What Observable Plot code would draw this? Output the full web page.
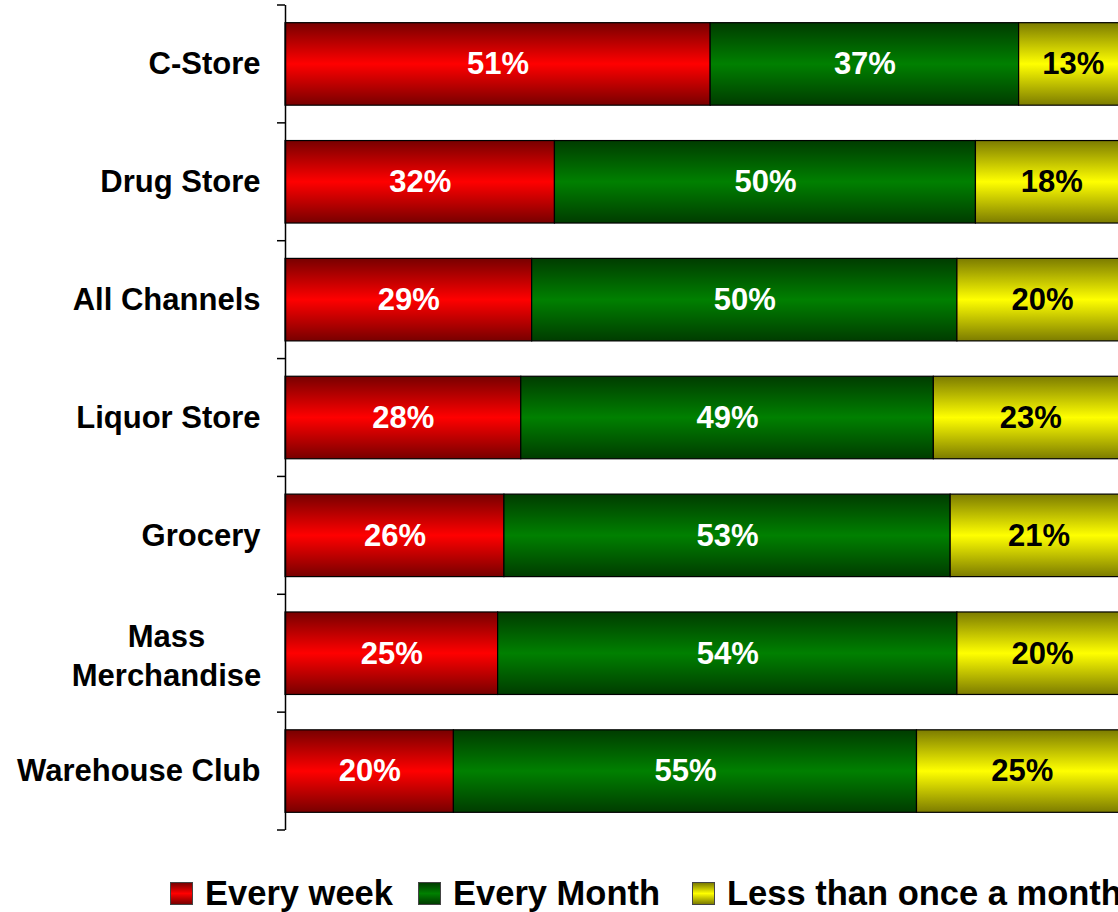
<!DOCTYPE html>
<html>
<head>
<meta charset="utf-8">
<script src="https://cdn.jsdelivr.net/npm/d3@7"></script>
<script src="https://cdn.jsdelivr.net/npm/@observablehq/plot@0.6"></script>
<style>
  html, body { margin: 0; padding: 0; background: #fff; overflow: hidden; width: 1118px; height: 912px; }
  #wrap { position: relative; width: 1118px; height: 912px; overflow: hidden; }
  #chart { position: absolute; left: 0; top: 0; width: 1135px; }
  #chart svg { max-width: none !important; }
  #legend { position: absolute; left: 0; top: 873px; width: 1300px; height: 40px;
            font-family: "Liberation Sans", Arial, sans-serif; font-weight: bold; font-size: 34.5px; color: #000; line-height: 40px; }
  .item { position: absolute; top: 0; display: flex; align-items: center; white-space: nowrap; height: 40px; }
  .sw { width: 21px; height: 21px; border: 1px solid #444; margin-right: 12px; }
</style>
</head>
<body>
<svg width="0" height="0" style="position:absolute">
  <defs>
    <linearGradient id="gRed" x1="0" y1="0" x2="0" y2="1">
      <stop offset="0" stop-color="#780000"/>
      <stop offset="0.5" stop-color="#ff0000"/>
      <stop offset="1" stop-color="#780000"/>
    </linearGradient>
    <linearGradient id="gGreen" x1="0" y1="0" x2="0" y2="1">
      <stop offset="0" stop-color="#003c00"/>
      <stop offset="0.5" stop-color="#008000"/>
      <stop offset="1" stop-color="#003c00"/>
    </linearGradient>
    <linearGradient id="gYellow" x1="0" y1="0" x2="0" y2="1">
      <stop offset="0" stop-color="#7c7c00"/>
      <stop offset="0.5" stop-color="#ffff00"/>
      <stop offset="1" stop-color="#7c7c00"/>
    </linearGradient>
  </defs>
</svg>
<div id="wrap">
  <div id="chart"></div>
  <div id="legend"></div>
</div>
<script>
// ---- Data ----
const categories = ["C-Store", "Drug Store", "All Channels", "Liquor Store", "Grocery", "Mass Merchandise", "Warehouse Club"];
const seriesNames = ["Every week", "Every Month", "Less than once a month"];
const everyWeek = [51, 32, 29, 28, 26, 25, 20];
const everyMonth = [37, 50, 50, 49, 53, 54, 55];
const lessThanMonth = [13, 18, 20, 23, 21, 20, 25];

const seriesValues = [everyWeek, everyMonth, lessThanMonth];
const gradients = ["url(#gRed)", "url(#gGreen)", "url(#gYellow)"];
const swatchCss = [
  "linear-gradient(to bottom, #780000, #ff0000, #780000)",
  "linear-gradient(to bottom, #003c00, #008000, #003c00)",
  "linear-gradient(to bottom, #7c7c00, #ffff00, #7c7c00)"
];
const labelColors = ["#fff", "#fff", "#000"];
const legendLefts = [170, 418, 692];

const data = categories.flatMap((c, i) =>
  seriesNames.map((s, k) => ({category: c, series: s, value: seriesValues[k][i]}))
);

const FONT = "'Liberation Sans', Arial, sans-serif";
const stackOpts = {x: "value", y: "category", z: "series", order: seriesNames, offset: "normalize"};

const chart = Plot.plot({
  width: 1135,
  height: 850,
  marginLeft: 285,
  marginRight: 8,
  marginTop: 5,
  marginBottom: 20,
  style: {fontFamily: FONT, background: "#fff", maxWidth: "none"},
  x: {domain: [0, 1], axis: null},
  y: {domain: categories, paddingInner: 0.3, paddingOuter: 0.15, round: false, axis: null},
  color: {type: "identity"},
  marks: [
    Plot.barX(data, Plot.stackX({
      ...stackOpts,
      fill: d => gradients[seriesNames.indexOf(d.series)],
      stroke: "#000",
      strokeWidth: 1.2
    })),
    Plot.text(data, Plot.stackX({
      ...stackOpts,
      text: d => d.value + "%",
      fill: d => labelColors[seriesNames.indexOf(d.series)],
      fontSize: 31,
      fontWeight: "bold",
      fontFamily: FONT
    })),
    Plot.ruleX([0], {stroke: "#000", strokeWidth: 1.5}),
    Plot.axisY(categories.filter(c => c !== "Mass Merchandise"), {
      label: null, tickSize: 0, tickPadding: 25, fontSize: 31, fontWeight: "bold", fontFamily: FONT, fill: "#000"
    }),
    Plot.axisY(["Mass Merchandise"], {
      label: null, tickSize: 0, tickPadding: 119, textAnchor: "middle", lineHeight: 1.29,
      tickFormat: () => "Mass\nMerchandise",
      fontSize: 31, fontWeight: "bold", fontFamily: FONT, fill: "#000"
    })
  ]
});

// boundary ticks on the category axis, placed with Plot's own scales
const ys = chart.scale("y");
const xs = chart.scale("x");
const x0 = xs.apply(0);
const gap = (ys.step - ys.bandwidth) / 2;
const bounds = categories.map(c => ys.apply(c) - gap);
bounds.push(ys.apply(categories[categories.length - 1]) + ys.bandwidth + gap);
d3.select(chart).append("g")
  .attr("stroke", "#000").attr("stroke-width", 1.5)
  .selectAll("line").data(bounds).join("line")
  .attr("x1", x0 - 8).attr("x2", x0)
  .attr("y1", d => d).attr("y2", d => d);

chart.style.maxWidth = "none";
document.getElementById("chart").appendChild(chart);

// legend
const legend = d3.select("#legend");
seriesNames.forEach((s, k) => {
  const it = legend.append("div").attr("class", "item").style("left", legendLefts[k] + "px");
  it.append("div").attr("class", "sw").style("background", swatchCss[k]);
  it.append("span").text(s);
});
</script>
</body>
</html>
